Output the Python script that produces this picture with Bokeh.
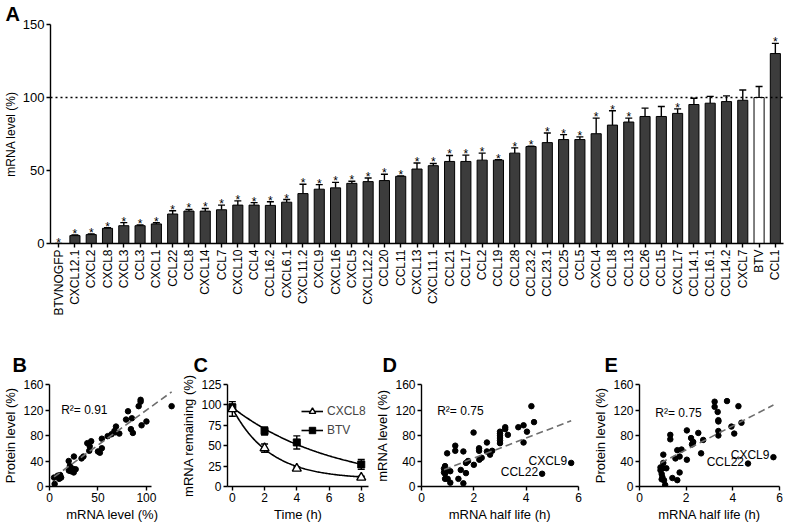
import numpy as np
from bokeh.plotting import figure
from bokeh.layouts import column, row
from bokeh.models import (ColumnDataSource, Whisker, TeeHead, Span, Label,
                          Legend, LegendItem, FactorRange)
from bokeh.core.properties import value
from bokeh.embed import file_html
from bokeh.resources import INLINE

FONT = "Liberation Sans"

# ---------------- data: panel A ----------------
genes = ["BTVNOGFP", "CXCL12.1", "CXCL2", "CXCL8", "CXCL3", "CCL3", "CXCL1", "CCL22",
         "CCL8", "CXCL14", "CCL7", "CXCL10", "CCL4", "CCL16.2", "CXCL6.1", "CXCL11.2",
         "CXCL9", "CXCL16", "CXCL5", "CXCL12.2", "CCL20", "CCL11", "CXCL13", "CXCL11.1",
         "CCL21", "CCL17", "CCL2", "CCL19", "CCL28", "CCL23.2", "CCL23.1", "CCL25", "CCL5",
         "CXCL4", "CCL18", "CCL13", "CCL26", "CCL15", "CXCL17", "CCL14.1", "CCL16.1",
         "CCL14.2", "CXCL7", "BTV", "CCL1"]
mrna_level = [0.0, 5.4, 6.1, 10.4, 12.2, 12.2, 13.4, 20.2, 22.2, 22.2, 23.1, 26.3, 26.3,
              26.1, 28.3, 34.2, 37.2, 38.1, 41.2, 42.4, 43.1, 46.0, 51.0, 53.3, 56.2, 56.2,
              57.1, 57.1, 61.9, 66.4, 69.1, 71.2, 71.2, 75.2, 81.1, 83.2, 87.0, 87.0, 89.1,
              95.2, 96.1, 97.2, 98.1, 100.0, 130.1]
mrna_sem = [0.0, 0.4, 0.5, 0.4, 2.1, 0.5, 0.8, 2.2, 1.1, 1.8, 3.2, 2.9, 1.7, 2.5, 1.8, 6.4,
            3.1, 3.8, 1.4, 2.5, 4.3, 0.3, 4.1, 1.5, 4.1, 4.3, 4.8, 0.3, 3.6, 0.3, 6.6, 3.4,
            1.8, 10.7, 9.8, 2.7, 5.7, 6.8, 3.1, 4.3, 4.7, 3.9, 7.0, 7.5, 7.0]
not_significant = ["CCL26", "CCL15", "CCL14.1", "CCL16.1", "CCL14.2", "CXCL7", "BTV"]
control = "BTV"

# ---------------- data: panel B ----------------
b_mrna = [4.7, 5.3, 8.5, 11, 10, 12, 19.8, 21, 20, 22, 24, 25, 25.2, 27, 33, 35, 39, 41,
          41.5, 43, 50, 52, 54, 54, 60, 64, 67, 68.6, 68, 72, 79, 81, 85, 84, 86, 92, 94,
          94, 95, 100, 126]
b_protein = [14, 4, 17, 18, 12, 14, 40, 32, 25, 24, 28, 22, 47, 27, 44, 47, 68, 56, 63, 71,
             55, 53, 60, 75, 79, 82, 87, 94, 85, 83, 105, 118, 107, 90, 84, 126, 136, 133,
             96, 102, 126]
b_fit = (1.1, 9.8)      # slope, intercept
b_r2 = "R\u00b2= 0.91"

# ---------------- data: panel C ----------------
time_h = [0, 2, 4, 8]
cxcl8_remaining = [95, 47, 22, 11]
cxcl8_sem = [9, 5, 2, 1.5]
btv_remaining = [97, 68, 54, 27]
btv_sem = [4, 5, 8, 6]
cxcl8_decay = (9.0, 87.0, 0.43)    # plateau, span, rate (1/h)
btv_decay = (0.0, 97.0, 0.158)

# ---------------- data: panel D ----------------
d_halflife = [0.86, 0.9, 0.86, 0.9, 0.92, 1.1, 0.9, 1.0, 1.1, 0.98, 1.29, 1.29, 1.41, 1.5,
              1.6, 1.6, 1.7, 1.7, 1.78, 1.99, 2.0, 2.2, 2.2, 2.21, 2.3, 2.5, 2.5, 2.62, 2.7,
              3.0, 3.0, 3.0, 3.0, 3.0, 3.0, 3.2, 3.2, 3.3, 3.7, 3.9, 3.9, 4.03, 4.2, 4.3,
              4.61, 5.72]
d_mrna = [28, 32, 22, 20, 24, 24, 12, 12, 6, 52, 64, 56, 12, 26, 5, 55, 21, 37, 40, 84.6,
          34, 60, 56, 42, 45, 55, 69, 50, 56, 86, 83, 79.5, 76, 72, 68, 93, 90, 81, 93, 96,
          69, 86, 126, 101, 20, 37]
d_fit = (15.8, 12.8)
d_r2 = "R\u00b2= 0.75"

# ---------------- data: panel E ----------------
e_halflife = [0.9, 0.9, 0.95, 0.98, 0.95, 1.05, 1.1, 1.0, 1.15, 1.02, 1.02, 1.32, 1.32,
              1.41, 1.54, 1.62, 1.62, 1.72, 1.72, 1.8, 2.03, 2.03, 2.21, 2.25, 2.3, 2.28,
              2.52, 2.64, 2.73, 3.22, 3.22, 3.35, 3.38, 3.38, 3.38, 3.38, 3.75, 3.94, 4.06,
              4.24, 4.37, 4.65, 5.74]
e_protein = [30, 25.6, 19.7, 14.8, 11.3, 9.9, 2.5, 28.6, 28.6, 37, 50, 81, 74, 13.3, 44,
             57, 10, 47, 22, 58, 88, 42, 76, 66, 70, 68, 84, 52, 73, 133, 125, 117, 104, 102,
             87, 80, 134, 94, 83, 126, 100, 36, 46]
e_fit = (18.75, 20.1)
e_r2 = "R\u00b2= 0.75"

outlier_names = ["CXCL9", "CCL22"]
d_outliers = ([5.72, 4.61], [37, 20])
e_outliers = ([5.74, 4.65], [46, 36])


def style(p, tick_size="12px", label_size="13px"):
    for ax in p.axis:
        ax.axis_line_color = "black"
        ax.axis_line_width = 1.4
        ax.major_tick_line_color = "black"
        ax.major_tick_line_width = 1.4
        ax.major_tick_in = 0
        ax.major_tick_out = 4
        ax.minor_tick_line_color = None
        ax.major_label_text_font = FONT
        ax.major_label_text_font_size = tick_size
        ax.major_label_text_color = "black"
        ax.axis_label_text_font = FONT
        ax.axis_label_text_font_size = label_size
        ax.axis_label_text_font_style = "normal"
        ax.axis_label_text_color = "black"
        ax.major_label_standoff = 2
        ax.axis_label_standoff = 2
    p.xgrid.visible = False
    p.ygrid.visible = False
    p.outline_line_color = None
    p.background_fill_color = "white"
    p.border_fill_color = "white"


def letter(p, text, offset, standoff):
    p.title.text = text
    p.title.text_font = FONT
    p.title.text_font_size = "20px"
    p.title.text_font_style = "bold"
    p.title.text_color = "black"
    p.title.align = "left"
    p.title.offset = offset
    p.title.standoff = standoff


# ================= Panel A =================
colors = ["white" if g == control else "#3c3c3c" for g in genes]
upper = [v + e for v, e in zip(mrna_level, mrna_sem)]
stars = ["" if g in not_significant else "*" for g in genes]
srcA = ColumnDataSource(dict(g=genes, v=mrna_level, up=upper, c=colors, s=stars))

A_LEFT = 45
pA = figure(x_range=FactorRange(*genes, range_padding=0), y_range=(0, 150),
            width=784, height=318, output_backend="svg", toolbar_location=None,
            min_border_left=A_LEFT, min_border_right=1, min_border_top=23,
            min_border_bottom=75)
pA.vbar(x="g", top="v", width=0.62, source=srcA, fill_color="c", line_color="black",
        line_width=1)
pA.add_layout(Whisker(base="g", upper="up", lower="v", source=srcA, line_width=1.4,
                      line_color="black",
                      upper_head=TeeHead(size=7, line_width=1.4, line_color="black"),
                      lower_head=None))
pA.text(x="g", y="up", text="s", source=srcA, text_font=value(FONT),
        text_font_size="12px", text_align="center", text_baseline="alphabetic",
        text_color="black", y_offset=-1)
pA.add_layout(Span(location=100, dimension="width", line_color="black",
                   line_width=1.3, line_dash="2 3"))
style(pA, tick_size="13px", label_size="12px")
pA.yaxis.ticker = [0, 50, 100, 150]
pA.yaxis.axis_label = "mRNA level (%)"
pA.xaxis.major_label_orientation = np.pi / 2
pA.xaxis.major_label_text_font_size = "12px"
letter(pA, "A", -A_LEFT, 0)

BOT_H = 206
TOP = 66
STAND = 17


def scatter_panel(width, left, right, xr, yr, xticks, yticks, xs, ys, xlabel, ylabel):
    p = figure(x_range=xr, y_range=yr, width=width, height=BOT_H, output_backend="svg",
               toolbar_location=None, min_border_left=left, min_border_right=right,
               min_border_top=TOP, min_border_bottom=0)
    p.scatter(xs, ys, size=5.5, color="black")
    style(p)
    p.xaxis.ticker = xticks
    p.yaxis.ticker = yticks
    p.xaxis.axis_label = xlabel
    p.yaxis.axis_label = ylabel
    return p


def fit_line(p, xs, fit):
    x0, x1 = min(xs), max(xs)
    xx = np.array([x0, x1])
    p.line(xx, fit[0] * xx + fit[1], line_color="#6e6e6e", line_width=1.6,
           line_dash="7 4")


def r2_label(p, text, x, y):
    p.add_layout(Label(x=x, y=y, text=text, text_font=FONT, text_font_size="12px",
                       text_baseline="middle", text_align="left", text_color="black"))


# ================= Panel B =================
B_LEFT = 37
pB = scatter_panel(178, B_LEFT, 3, (0, 130), (0, 160), [0, 50, 100],
                   [0, 40, 80, 120, 160], b_mrna, b_protein,
                   "mRNA level (%)", "Protein level (%)")
pB.xaxis.bounds = (0, 105)
fit_line(pB, b_mrna, b_fit)
r2_label(pB, b_r2, 12, 120)
letter(pB, "B", -B_LEFT, STAND)

# ================= Panel C =================
C_LEFT = 42
pC = figure(x_range=(-0.3, 8.45), y_range=(0, 125), width=194, height=BOT_H,
            output_backend="svg", toolbar_location=None, min_border_left=C_LEFT,
            min_border_right=4, min_border_top=TOP, min_border_bottom=0)
tt = np.linspace(0, 8, 120)
c1 = pC.line(tt, cxcl8_decay[0] + cxcl8_decay[1] * np.exp(-cxcl8_decay[2] * tt),
             line_color="black", line_width=1.6)
c2 = pC.line(tt, btv_decay[0] + btv_decay[1] * np.exp(-btv_decay[2] * tt),
             line_color="black", line_width=1.6)
for yv, ev in ((cxcl8_remaining, cxcl8_sem), (btv_remaining, btv_sem)):
    s = ColumnDataSource(dict(t=time_h, lo=[a - b for a, b in zip(yv, ev)],
                              hi=[a + b for a, b in zip(yv, ev)]))
    pC.add_layout(Whisker(base="t", upper="hi", lower="lo", source=s, line_width=1.4,
                          line_color="black",
                          upper_head=TeeHead(size=7, line_width=1.4, line_color="black"),
                          lower_head=TeeHead(size=7, line_width=1.4, line_color="black")))
m2 = pC.scatter(time_h, btv_remaining, marker="square", size=7, color="black")
m1 = pC.scatter(time_h, cxcl8_remaining, marker="triangle", size=9, fill_color="white",
                line_color="black", line_width=1.4)
style(pC)
pC.xaxis.ticker = [0, 2, 4, 6, 8]
pC.yaxis.ticker = [0, 25, 50, 75, 100, 125]
pC.xaxis.axis_label = "Time (h)"
pC.yaxis.axis_label = "mRNA remaining (%)"
leg = Legend(items=[LegendItem(label="CXCL8", renderers=[c1, m1]),
                    LegendItem(label="BTV", renderers=[c2, m2])],
             location=(74, 48), background_fill_alpha=0, border_line_color=None,
             label_text_font=FONT, label_text_font_size="12px", glyph_width=22,
             glyph_height=16, label_height=16, spacing=3, padding=0, margin=0,
             label_standoff=4)
pC.add_layout(leg)
letter(pC, "C", -C_LEFT + 8, STAND)

# ================= Panel D =================
D_LEFT = 43
pD = scatter_panel(218, D_LEFT, 12, (0, 6), (0, 160), [0, 2, 4, 6], [0, 40, 80, 120, 160],
                   d_halflife, d_mrna, "mRNA half life (h)", "mRNA level (%)")
fit_line(pD, d_halflife, d_fit)
r2_label(pD, d_r2, 0.6, 118)
pD.text(d_outliers[0], d_outliers[1], text=outlier_names, text_font=value(FONT),
        text_font_size="12px", text_align="right", text_baseline="middle",
        text_color="black", x_offset=-4, y_offset=-2)
letter(pD, "D", -D_LEFT + 4, STAND)

# ================= Panel E =================
E_LEFT = 35
pE = scatter_panel(194, E_LEFT, 5, (0, 6), (0, 160), [0, 2, 4, 6], [0, 40, 80, 120, 160],
                   e_halflife, e_protein, "mRNA half life (h)", "Protein level (%)")
fit_line(pE, e_halflife, e_fit)
r2_label(pE, e_r2, 0.68, 116)
pE.text(e_outliers[0], e_outliers[1], text=outlier_names, text_font=value(FONT),
        text_font_size="12px", text_align="right", text_baseline="middle",
        text_color="black", x_offset=-4, y_offset=-2)
letter(pE, "E", -E_LEFT, STAND)

layout = column(pA, row(pB, pC, pD, pE))
open("out.html", "w").write(file_html(layout, INLINE))
